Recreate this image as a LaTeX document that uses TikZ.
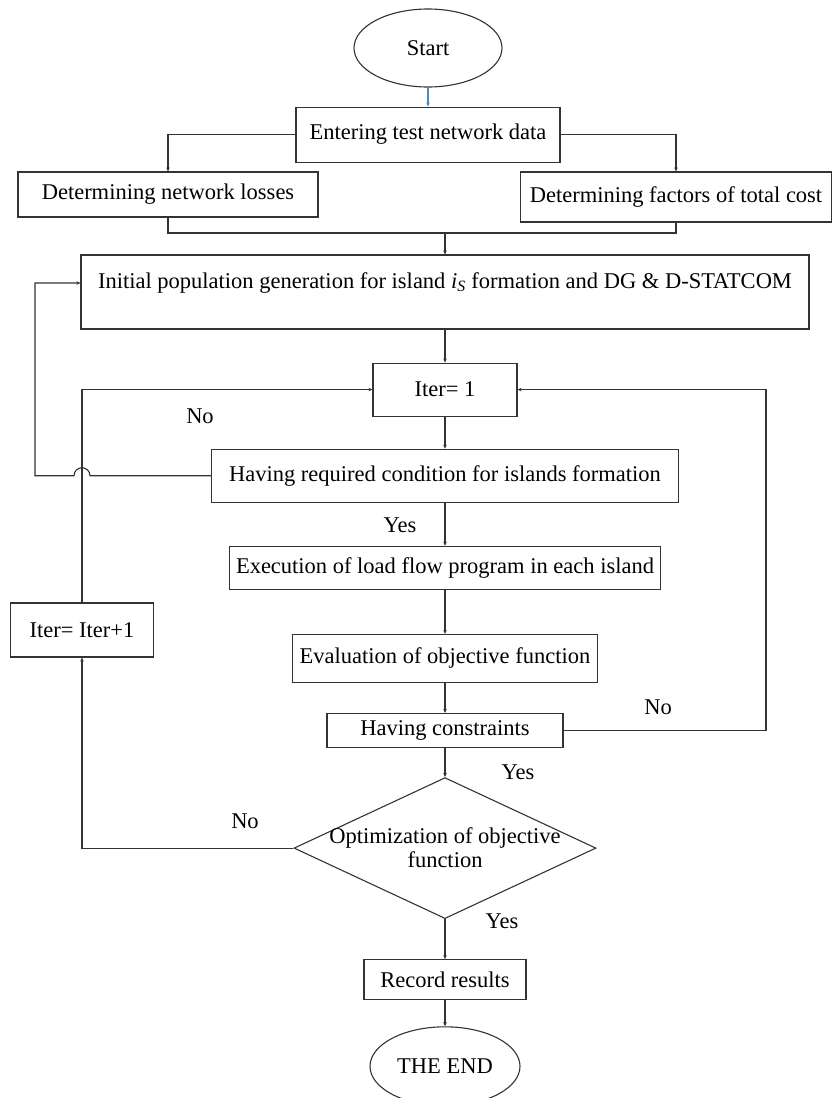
\documentclass[tikz,border=0pt]{standalone}
\usepackage{fontspec}
\setmainfont{Liberation Serif}
\usetikzlibrary{positioning}
\usetikzlibrary{calc}
\usetikzlibrary{shapes.geometric}
\usetikzlibrary{arrows.meta}
\definecolor{steel}{RGB}{70,140,190}
\def\ColX{445}
\def\LoopL{35}
\def\LoopM{82}
\def\LoopR{766}
\tikzset{
	box/.style={draw=black!80,line width=1.1pt,rectangle,inner sep=0pt},
	term/.style={draw=black!80,line width=1.1pt,ellipse,inner sep=0pt,minimum width=148pt,minimum height=78pt},
	dec/.style={draw=black!80,line width=1.1pt,diamond,aspect=2.16,inner sep=-6pt,minimum width=302pt,minimum height=141pt,align=center},
	wire/.style={draw=black!80,line width=1.1pt},
	flow/.style={wire,-{Stealth[length=4pt,width=3.5pt]}},
	tag/.style={inner sep=0pt},
}

\begin{document}
\begin{tikzpicture}[x=1pt,y=-1pt,font=\fontsize{22.5}{24}\selectfont]
			\useasboundingbox (0,0) rectangle (833,1098);
			\node[term] (start) at (428,48) {Start};
			\node[box,below=19pt of start,minimum width=264pt,minimum height=55pt] (ent) {Entering test network data};
			\node[box,minimum width=300pt,minimum height=45pt] (loss) at (168,194.5) {Determining network losses};
			\node[box,minimum width=311pt,minimum height=50pt] (cost) at (676,197) {Determining factors of total cost};
			\coordinate (mrg) at (\ColX,233);
			% 
			\node[box,minimum width=728pt,minimum height=74pt,text depth=23pt] (init) at (\ColX,292) {Initial population generation for island \textit{i}\textsubscript{\textit{S}} formation and DG \& D-STATCOM};
			\node[box,below=33pt of init,minimum width=144pt,minimum height=53pt] (it1) {Iter= 1};
			\node[box,below=32pt of it1,minimum width=467pt,minimum height=53pt] (cond) {Having required condition for islands formation};
			\node[box,below=43pt of cond,minimum width=431pt,minimum height=43pt] (lf) {Execution of load flow program in each island};
			\node[box,below=44pt of lf,minimum width=305pt,minimum height=48pt] (eva) {Evaluation of objective function};
			\node[box,below=30pt of eva,minimum width=236pt,minimum height=34pt] (cons) {Having constraints};
			\node[dec,below=29pt of cons] (opt) {Optimization of objective\\function};
			\node[box,below=40pt of opt,minimum width=162pt,minimum height=40pt] (rec) {Record results};
			\node[term,below=26pt of rec,minimum width=150pt,minimum height=79pt] (fin) {THE END};
			% 
			\node[box,minimum width=143pt,minimum height=54pt] (itp) at (\LoopM,630) {Iter= Iter+1};
			\coordinate (lloop) at (\LoopL,0);
			\coordinate (rloop) at (\LoopR,0);
			% 
			\node[tag] (no1) at (200,416) {No};
			\node[tag] (yes1) at (400,525) {Yes};
			\node[tag] (no2) at (658,707) {No};
			\node[tag] (yes2) at (518,772) {Yes};
			\node[tag] (no3) at (245,821) {No};
			\node[tag] (yes3) at (502,921) {Yes};
			% 
			\draw[flow,draw=steel] (start) -- (ent);
			\draw[flow] (ent.west) -| (loss.north);
			\draw[flow] (ent.east) -| (cost.north);
			\draw[wire] (loss.south) |- (mrg) -| (cost.south);
			\draw[flow] (mrg) -- (init.north);
			\draw[flow] (init) -- (it1);
			\draw[flow] (it1) -- (cond);
			\draw[flow] (cond) -- (lf);
			\draw[flow] (lf) -- (eva);
			\draw[flow] (eva) -- (cons);
			\draw[flow] (cons) -- (opt);
			\draw[flow] (opt) -- (rec);
			\draw[flow] (rec) -- (fin);
			% back to the population, hopping over the Iter+1 line
			\draw[flow] (cond.west) -- ($(cond.west -| itp)+(8,0)$) arc[start angle=0,end angle=180,radius=8pt] -- (cond.west -| lloop) |- ([yshift=9pt]init.west);
			\draw[flow] (opt.west) -| (itp.south);
			\draw[flow] (itp.north) |- (it1.west);
			\draw[flow] (cons.east) -- (cons.east -| rloop) |- (it1.east);
\end{tikzpicture}
\end{document}
